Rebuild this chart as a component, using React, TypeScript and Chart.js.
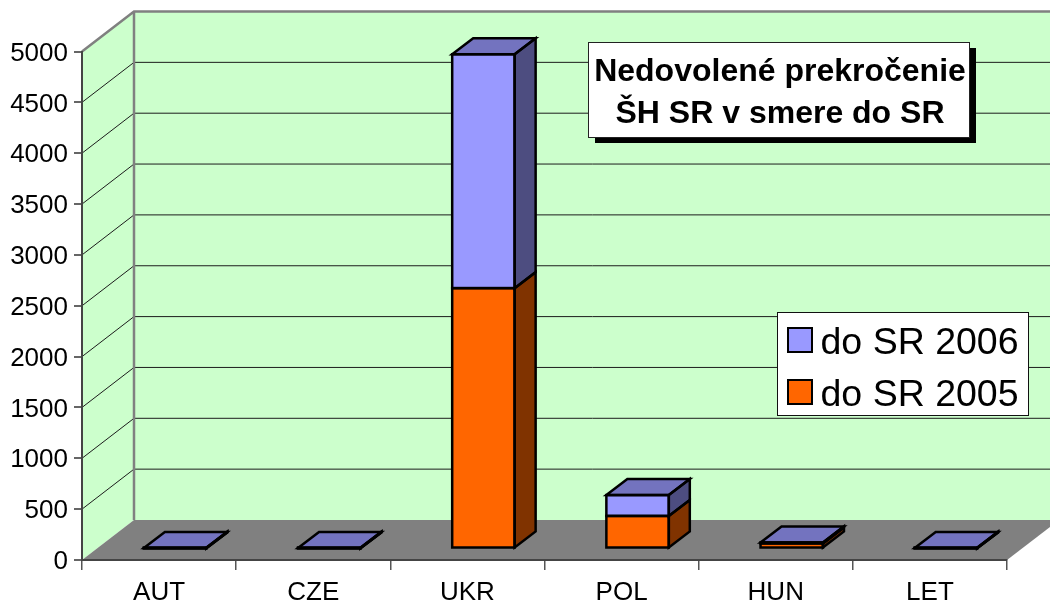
import React, { useEffect, useRef } from "react";
import { Chart, registerables } from "chart.js";

Chart.register(...registerables);

const categories = ["AUT", "CZE", "UKR", "POL", "HUN", "LET"];
const values2005 = [2, 2, 2560, 320, 50, 2];
const values2006 = [2, 2, 2300, 205, 10, 2];
const yTicks = [0, 500, 1000, 1500, 2000, 2500, 3000, 3500, 4000, 4500, 5000];
const titleLines = ["Nedovolené prekročenie", "ŠH SR v smere do SR"];
const label2005 = "do SR 2005";
const label2006 = "do SR 2006";

const FONT = '"Liberation Sans", Arial, sans-serif';
const WALL_DX = 52;
const WALL_DY = -40;
const BAR_DX = 16;
const BAR_DY = -11.5;
const DEPTH_DX = 21;
const DEPTH_DY = -16;
const WALL = "#CCFFCC";
const FLOOR = "#808080";
const FRAME = "#808080";

const faces = [
  { front: "#FF6600", side: "#803300" },
  { front: "#9999FF", top: "#7373BF", side: "#4D4D80" },
];

function poly(ctx: CanvasRenderingContext2D, pts: number[][], fill?: string) {
  ctx.beginPath();
  pts.forEach((p, i) => (i ? ctx.lineTo(p[0], p[1]) : ctx.moveTo(p[0], p[1])));
  ctx.closePath();
  if (fill) {
    ctx.fillStyle = fill;
    ctx.fill();
  }
}

function barBoxes(chart: any, di: number) {
  return chart.getDatasetMeta(di).data.map((el: any) => {
    const p = el.getProps(["x", "y", "base", "width"], true);
    return { l: p.x - p.width / 2, r: p.x + p.width / 2, t: p.y, b: p.base };
  });
}

const scene3d = {
  id: "scene3d",
  beforeDraw(chart: any) {
    const { ctx, scales } = chart;
    const x0 = scales.x.left;
    const x1 = scales.x.right;
    const y0 = scales.y.getPixelForValue(0);
    const yT = scales.y.getPixelForValue(yTicks[yTicks.length - 1]);
    ctx.save();
    // back wall, side wall, floor
    ctx.fillStyle = WALL;
    ctx.fillRect(x0 + WALL_DX, yT + WALL_DY, x1 - x0 + 10, y0 - yT);
    poly(ctx, [[x0, yT], [x0 + WALL_DX, yT + WALL_DY], [x0 + WALL_DX, y0 + WALL_DY], [x0, y0]], WALL);
    poly(ctx, [[x0, y0], [x0 + WALL_DX, y0 + WALL_DY], [x1 + WALL_DX, y0 + WALL_DY], [x1, y0]], FLOOR);
    // gridlines
    ctx.strokeStyle = "#1c1c1c";
    ctx.lineWidth = 1;
    yTicks.forEach((v) => {
      if (v === 0 || v === yTicks[yTicks.length - 1]) return;
      const y = scales.y.getPixelForValue(v);
      ctx.beginPath();
      ctx.moveTo(x0, y);
      ctx.lineTo(x0 + WALL_DX, y + WALL_DY);
      ctx.lineTo(x1 + WALL_DX, y + WALL_DY);
      ctx.stroke();
    });
    // frame
    ctx.strokeStyle = FRAME;
    ctx.lineWidth = 2.5;
    ctx.beginPath();
    ctx.moveTo(x0, yT);
    ctx.lineTo(x0 + WALL_DX, yT + WALL_DY);
    ctx.lineTo(x1 + WALL_DX, yT + WALL_DY);
    ctx.moveTo(x0 + WALL_DX, yT + WALL_DY);
    ctx.lineTo(x0 + WALL_DX, y0 + WALL_DY);
    ctx.stroke();

    // title box
    ctx.fillStyle = "#000";
    ctx.fillRect(595, 48, 381, 95);
    ctx.fillStyle = "#fff";
    ctx.fillRect(589, 42, 381, 95);
    ctx.strokeStyle = "#222";
    ctx.lineWidth = 1;
    ctx.strokeRect(588.5, 42.5, 381, 95);
    ctx.fillStyle = "#000";
    ctx.font = `bold 32px ${FONT}`;
    ctx.textAlign = "center";
    ctx.textBaseline = "alphabetic";
    titleLines.forEach((t, i) => ctx.fillText(t, 780, 81 + i * 42));

    // legend box
    ctx.fillStyle = "#fff";
    ctx.fillRect(777, 312, 251, 103);
    ctx.strokeStyle = "#111";
    ctx.lineWidth = 1;
    ctx.strokeRect(777.5, 312.5, 251, 103);
    const ds = chart.data.datasets;
    [ds[1], ds[0]].forEach((d: any, i: number) => {
      const y = 328 + i * 52;
      ctx.fillStyle = d.backgroundColor;
      ctx.fillRect(788, y, 24, 24);
      ctx.strokeStyle = "#000";
      ctx.lineWidth = 2;
      ctx.strokeRect(788, y, 24, 24);
      ctx.fillStyle = "#000";
      ctx.font = `37.5px ${FONT}`;
      ctx.textAlign = "left";
      ctx.fillText(d.label, 820.5, y + 26);
    });
    ctx.restore();
  },
  beforeDatasetsDraw(chart: any) {
    const { ctx } = chart;
    ctx.save();
    ctx.translate(BAR_DX, BAR_DY);
    ctx.lineJoin = "miter";
    faces.forEach((f: any, di) => {
      barBoxes(chart, di).forEach((b: any) => {
        poly(ctx, [[b.r, b.t], [b.r + DEPTH_DX, b.t + DEPTH_DY], [b.r + DEPTH_DX, b.b + DEPTH_DY], [b.r, b.b]], f.side);
        if (f.top) {
          poly(ctx, [[b.l, b.t], [b.l + DEPTH_DX, b.t + DEPTH_DY], [b.r + DEPTH_DX, b.t + DEPTH_DY], [b.r, b.t]], f.top);
        }
      });
    });
  },
  afterDatasetsDraw(chart: any) {
    const { ctx } = chart;
    ctx.strokeStyle = "#000";
    ctx.lineWidth = 2.5;
    faces.forEach((f: any, di) => {
      barBoxes(chart, di).forEach((b: any) => {
        ctx.strokeRect(b.l, b.t, b.r - b.l, b.b - b.t);
        poly(ctx, [[b.r, b.t], [b.r + DEPTH_DX, b.t + DEPTH_DY], [b.r + DEPTH_DX, b.b + DEPTH_DY], [b.r, b.b]]);
        ctx.stroke();
        if (f.top) {
          poly(ctx, [[b.l, b.t], [b.l + DEPTH_DX, b.t + DEPTH_DY], [b.r + DEPTH_DX, b.t + DEPTH_DY], [b.r, b.t]]);
          ctx.stroke();
        }
      });
    });
    ctx.restore();
  },
};

export default function App() {
  const ref = useRef<HTMLCanvasElement | null>(null);
  useEffect(() => {
    if (!ref.current) return;
    const chart = new Chart(ref.current, {
      type: "bar",
      data: {
        labels: categories,
        datasets: [
          { label: label2005, data: values2005, backgroundColor: faces[0].front, borderWidth: 0, clip: false } as any,
          { label: label2006, data: values2006, backgroundColor: faces[1].front, borderWidth: 0, clip: false } as any,
        ],
      },
      options: {
        responsive: false,
        animation: false,
        layout: { padding: { top: 51.5, right: 43, left: 0, bottom: 0 } },
        datasets: { bar: { barPercentage: 0.405, categoryPercentage: 1 } },
        plugins: { legend: { display: false }, title: { display: false }, tooltip: { enabled: false } },
        scales: {
          x: {
            stacked: true,
            afterFit: (s: any) => {
              s.height = 44;
            },
            grid: { offset: true, drawOnChartArea: false, tickLength: 10, color: "#555", lineWidth: 1.5 },
            border: { color: "#444", width: 2 },
            ticks: { color: "#000", font: { family: FONT, size: 26 }, padding: 7, maxRotation: 0 },
          },
          y: {
            stacked: true,
            min: 0,
            max: 5000,
            afterFit: (s: any) => {
              s.width = 82;
            },
            afterBuildTicks: (s: any) => {
              s.ticks = yTicks.map((value) => ({ value }));
            },
            grid: { drawOnChartArea: false, tickLength: 8, color: "#666", lineWidth: 2 },
            border: { color: "#444", width: 2 },
            ticks: {
              color: "#000",
              font: { family: FONT, size: 26 },
              padding: 6,
              labelOffset: 2,
              callback: (v: any) => String(v),
            },
          },
        },
      },
      plugins: [scene3d],
    } as any);
    return () => chart.destroy();
  }, []);
  return (
    <canvas
      ref={ref}
      width={1050}
      height={604}
      style={{ position: "fixed", left: 0, top: 0, display: "block", background: "#fff" }}
    />
  );
}
